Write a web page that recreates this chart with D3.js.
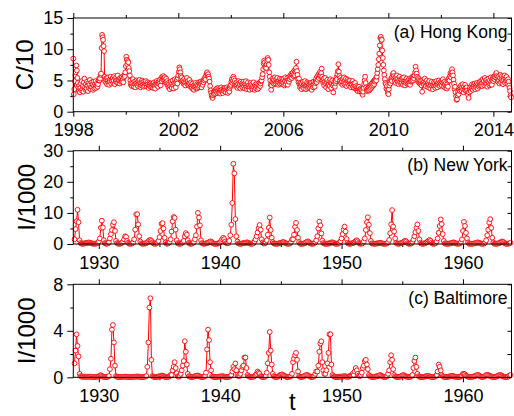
<!DOCTYPE html>
<html><head><meta charset="utf-8">
<script src="https://cdn.jsdelivr.net/npm/d3@7"></script>
<style>html,body{margin:0;padding:0;background:#fff;}svg{display:block;}</style>
</head><body>
<svg id="chart" width="514" height="416"></svg>
<script>
// ---------- DATA ----------
// (a) Hong Kong, weekly values of C/10, one row per year (52 weeks; 2014 partial)
const hkStartYear = 1998;
const hkWeekly = [
 [8.5,2.8,3.6,4.9,5.8,6.3,7.4,6.6,5.4,4.6,3.9,3.3,4.2, 3.1,3.8,4.5,3.4,4.9,3.6,4.1,3.2,4.7,5.3,3.9,3.5,4.4, 3.7,4.8,4.2,3.3,4.6,3.8,4.3,5.1,3.6,4.0,4.7,3.9,4.4, 3.5,4.8,4.1,3.7,4.5,4.9,3.8,4.2,4.6,4.0,4.4,5.0,5.3],
 [5.0,5.3,5.9,6.1,10.2,12.3,11.9,11.5,10.5,9.7,5.6,4.9,5.2, 4.6,5.4,4.4,5.0,5.5,4.7,4.3,5.1,4.8,5.6,4.5,5.2,4.9, 5.4,4.6,5.0,5.7,4.4,5.3,4.9,5.5,4.7,5.1,5.8,4.6,5.2, 5.0,4.5,5.4,4.8,5.3,4.9,5.6,5.1,4.7,5.5,5.9,5.7,6.3],
 [7.3,8.8,8.3,7.6,8.1,7.9,7.0,6.5,5.8,5.0,4.3,4.6,4.1, 4.5,5.2,4.2,4.0,4.8,4.4,3.9,4.6,5.0,4.3,4.7,4.1,4.9, 4.4,5.1,4.6,3.9,4.5,4.2,5.0,4.7,4.3,4.0,4.8,4.5,4.1, 4.6,4.9,4.3,4.0,4.7,4.4,3.8,4.2,4.6,4.1,4.5,3.9,4.3],
 [4.0,4.4,3.8,4.2,4.7,4.1,3.7,4.5,4.3,4.9,4.2,4.6,4.0, 4.8,4.4,5.1,4.6,4.2,5.3,4.9,5.6,5.2,5.7,5.4,5.0,5.5, 5.1,4.7,5.3,4.5,4.9,4.2,4.6,3.9,4.4,3.6,4.1,4.8,4.3, 3.8,4.5,5.0,4.2,3.7,4.6,5.2,4.4,3.9,4.7,5.1,4.5,5.4],
 [5.8,6.4,7.1,6.8,6.3,5.7,5.2,5.5,4.8,5.0,4.5,4.8,5.3, 4.6,4.2,5.0,4.7,5.4,4.4,4.9,4.3,4.6,5.1,4.5,4.0,4.7, 4.2,3.8,4.5,3.6,4.1,3.5,4.3,3.9,4.6,4.0,3.7,4.4,3.8, 4.2,4.7,3.9,4.5,4.1,4.8,4.4,3.9,4.6,4.3,5.0,4.7,5.2],
 [5.0,5.5,5.2,5.8,6.1,6.3,5.9,6.0,5.6,5.3,4.8,4.1,3.4, 3.0,2.6,2.3,2.2,2.6,3.1,2.8,3.3,2.9,3.5,3.2,3.7,3.0, 3.4,3.8,3.1,3.6,3.3,2.9,3.5,3.9,3.2,3.6,3.0,3.4,3.7, 3.3,3.8,3.5,3.1,3.6,3.9,3.4,3.0,3.7,3.5,3.2,3.8,4.1],
 [4.3,4.8,5.2,4.6,5.0,5.6,5.3,4.7,5.0,4.4,4.1,4.7,4.2, 3.8,4.5,4.9,4.0,4.6,4.3,3.7,4.8,4.2,4.5,3.9,4.4,4.8, 4.1,4.5,3.7,4.3,4.9,4.0,3.6,4.4,4.7,3.9,4.2,3.5,4.0, 4.6,4.2,3.8,4.4,3.6,4.1,4.7,3.9,3.5,4.3,4.0,3.7,4.5],
 [4.0,3.6,4.4,3.8,4.2,4.7,4.1,4.5,4.9,5.0,5.5,6.0,6.8, 7.7,8.2,7.9,7.1,7.4,7.0,7.6,8.1,8.6,8.3,7.5,6.3,5.6, 5.0,4.3,3.5,4.2,4.8,5.3,4.6,5.1,4.4,5.5,4.9,4.5,5.2, 4.7,5.4,4.8,4.3,5.0,4.6,5.3,4.4,4.9,5.2,4.5,4.8,5.1],
 [4.6,5.3,4.2,4.9,5.5,4.4,5.0,4.7,5.4,4.3,5.1,4.8,5.6, 5.2,5.8,5.5,6.1,5.4,5.9,6.3,5.7,6.0,6.6,5.8,6.4,7.0, 8.0,6.5,5.9,5.2,4.7,5.3,4.4,3.9,4.6,4.1,3.6,4.5,4.0, 4.8,4.2,3.7,4.4,4.9,4.1,3.6,4.3,4.7,3.8,4.5,4.2,3.9],
 [4.4,3.8,4.6,4.1,3.5,4.7,4.2,3.9,4.8,4.3,4.0,4.6,4.9, 5.3,4.7,5.6,5.1,5.9,5.4,6.1,5.7,6.4,5.8,6.2,6.9,5.6, 5.0,4.6,5.3,4.2,4.8,5.4,4.5,3.9,4.7,5.1,4.3,3.6,4.4, 4.9,4.1,5.2,4.6,3.8,4.5,5.0,4.2,3.1,4.4,4.8,4.0,4.6],
 [4.9,5.5,5.2,6.0,6.5,7.6,6.4,5.7,5.0,5.4,4.6,5.1,4.8, 4.3,5.2,4.7,5.5,4.4,5.0,4.6,5.3,4.1,4.8,5.1,4.5,4.9, 4.2,4.7,5.0,4.4,3.9,4.6,4.3,4.9,4.0,4.5,3.8,4.2,4.6, 3.7,4.1,3.5,3.9,3.3,3.8,3.6,4.0,3.4,3.2,3.7,3.5,3.1],
 [3.4,2.7,3.2,3.8,4.4,5.0,5.6,4.6,3.9,3.5,3.3,3.7,3.4, 3.9,3.4,4.1,3.6,4.3,3.8,4.5,4.0,4.7,4.2,4.9,4.4,5.1, 4.8,5.3,5.0,5.6,6.2,6.8,7.5,8.4,9.3,10.6,11.8,12.0,11.6, 11.5,9.8,8.6,7.5,6.6,5.9,5.2,4.6,4.4,3.7,4.1,3.5,3.0],
 [2.8,3.6,4.2,4.8,4.5,5.1,5.4,4.9,5.6,6.0,6.2,5.7,5.3, 4.9,5.5,4.6,5.2,5.8,4.8,5.3,4.4,5.0,5.6,4.7,5.2,4.5, 5.1,4.6,5.4,4.3,4.9,5.5,4.7,4.2,5.0,4.6,5.3,4.8,4.4, 5.0,4.5,5.2,4.7,4.3,5.1,4.8,5.5,4.9,5.4,5.0,5.7,5.3],
 [5.8,6.3,7.2,6.6,6.1,5.6,5.0,5.4,4.7,5.2,4.5,5.0,4.4, 4.9,4.2,3.2,4.6,5.1,4.4,4.8,5.3,4.5,4.1,4.7,5.0,4.3, 4.6,3.9,4.4,4.9,4.1,3.7,4.5,4.2,4.8,4.0,3.6,4.3,4.7, 4.1,4.5,3.8,4.2,4.9,4.4,3.9,4.6,4.3,5.0,4.5,4.1,4.7],
 [4.4,4.9,4.2,4.7,5.2,4.5,4.0,4.8,4.3,3.8,4.6,4.1,3.7, 4.5,4.0,4.9,5.4,5.0,5.7,6.2,5.5,6.0,6.8,6.3,5.8,5.1, 4.5,3.6,4.0,3.1,2.5,1.9,2.0,2.6,3.2,2.8,3.5,3.9,3.3, 3.7,4.2,3.4,3.9,4.4,3.6,3.1,4.0,3.5,4.3,3.8,3.3,3.9],
 [3.4,3.0,2.7,2.2,3.1,3.6,3.9,3.3,4.1,3.7,4.4,3.5,4.0, 4.3,3.8,4.5,3.6,4.2,3.9,4.6,4.1,3.7,4.4,4.0,4.7,4.2, 4.8,4.3,5.0,4.5,4.1,5.2,4.6,4.9,4.2,5.4,4.7,4.4,5.1, 4.5,4.0,4.8,5.3,4.6,4.2,5.0,4.4,5.5,4.8,4.3,5.1,5.4],
 [4.9,5.6,5.2,5.8,5.5,6.0,6.2,5.7,5.3,4.8,5.6,5.0,4.5, 5.4,5.9,4.7,5.2,5.7,4.9,4.4,5.5,5.1,5.8,4.6,5.3,4.9, 5.6,5.0,4.5,5.2,4.8,4.2,3.8,3.3,2.6,2.3]
];

// (b) New York, monthly values of I/1000, one row per year (Jan..Dec)
const nyStartYear = 1928;
const nyMonthly = [
 [1.5,4.8,7.3,11.0,7.0,1.2,0.3,0.1,0.1,0.1,0.2,0.3],
 [0.3,0.4,0.5,0.4,0.3,0.2,0.1,0.1,0.1,0.1,0.2,0.4],
 [0.8,1.8,5.2,7.5,5.3,1.2,0.3,0.1,0.1,0.2,0.5,1.8],
 [3.2,4.5,6.2,7.0,4.2,1.0,0.3,0.1,0.1,0.1,0.2,0.4],
 [0.8,1.5,2.5,2.3,1.0,0.4,0.1,0.1,0.1,0.2,0.5,1.5],
 [4.6,9.5,9.6,6.3,2.5,0.8,0.2,0.1,0.1,0.1,0.2,0.3],
 [0.5,0.8,1.2,1.3,1.0,0.5,0.2,0.1,0.1,0.2,0.4,1.0],
 [2.2,4.2,6.5,6.7,5.0,2.0,0.5,0.1,0.1,0.3,0.6,1.5],
 [4.0,7.3,8.7,8.4,4.6,1.2,0.3,0.1,0.1,0.1,0.3,0.6],
 [1.0,2.5,3.5,3.0,1.2,0.4,0.1,0.1,0.1,0.3,0.6,1.5],
 [2.8,5.6,10.0,8.5,6.0,1.2,0.3,0.1,0.1,0.1,0.2,0.3],
 [0.4,0.6,0.8,0.8,0.5,0.2,0.1,0.1,0.1,0.1,0.2,0.3],
 [0.5,1.0,1.5,2.0,1.6,0.8,0.3,0.2,0.3,1.0,2.8,6.2],
 [13.2,25.8,22.7,8.0,2.5,0.8,0.2,0.1,0.1,0.1,0.2,0.3],
 [0.3,0.4,0.5,0.5,0.3,0.2,0.1,0.1,0.1,0.3,0.8,1.5],
 [2.5,3.7,5.1,6.1,4.6,1.5,0.5,0.2,0.2,0.5,1.2,3.0],
 [5.2,8.5,4.5,2.0,0.6,0.2,0.1,0.1,0.1,0.1,0.2,0.3],
 [0.4,0.5,0.6,0.6,0.4,0.2,0.1,0.1,0.1,0.2,0.6,1.5],
 [1.5,3.0,5.5,6.8,4.5,2.0,0.6,0.1,0.1,0.1,0.1,0.2],
 [0.3,0.5,0.8,0.8,0.5,0.2,0.1,0.1,0.1,0.2,0.5,1.2],
 [2.5,5.0,7.2,6.0,3.4,1.1,0.3,0.1,0.1,0.1,0.1,0.2],
 [0.2,0.4,0.5,0.5,0.4,0.2,0.1,0.1,0.1,0.2,0.4,0.9],
 [1.8,3.2,4.6,5.6,4.0,1.6,0.4,0.1,0.1,0.1,0.2,0.3],
 [0.4,0.7,1.0,1.2,0.9,0.4,0.1,0.1,0.1,0.3,0.8,1.8],
 [4.5,7.0,8.6,6.2,3.5,1.0,0.2,0.1,0.1,0.1,0.1,0.2],
 [0.2,0.3,0.3,0.3,0.2,0.1,0.1,0.1,0.1,0.2,0.5,1.3],
 [3.5,6.3,10.9,5.6,4.0,1.8,0.4,0.1,0.1,0.1,0.2,0.3],
 [0.4,0.6,0.9,1.0,0.8,0.3,0.1,0.1,0.1,0.2,0.6,1.4],
 [2.5,3.8,5.2,6.3,4.2,1.5,0.4,0.1,0.1,0.1,0.2,0.3],
 [0.5,0.8,1.1,1.3,1.0,0.4,0.1,0.1,0.1,0.3,0.8,1.8],
 [3.6,5.8,7.9,6.4,3.2,1.0,0.2,0.1,0.1,0.1,0.1,0.2],
 [0.2,0.3,0.5,0.5,0.3,0.2,0.1,0.1,0.1,0.2,0.6,1.5],
 [4.2,7.1,5.8,3.6,1.8,0.5,0.1,0.1,0.1,0.1,0.1,0.2],
 [0.2,0.3,0.5,0.5,0.4,0.2,0.1,0.1,0.1,0.2,0.5,1.2],
 [2.8,4.6,6.9,8.0,5.2,2.0,0.5,0.1,0.1,0.1,0.1,0.2],
 [0.3,0.5,0.7,0.8,0.6,0.3,0.1,0.1,0.1,0.1,0.2,0.4]
];

// (c) Baltimore, monthly values of I/1000, one row per year (Jan..Dec)
const baltStartYear = 1928;
const baltMonthly = [
 [1.2,2.3,3.7,2.7,1.8,0.3,0.1,0.05,0.05,0.05,0.05,0.05],
 [0.05,0.05,0.05,0.05,0.05,0.05,0.03,0.03,0.03,0.05,0.05,0.05],
 [0.08,0.15,0.18,0.12,0.06,0.04,0.03,0.03,0.03,0.05,0.1,0.7],
 [1.6,4.1,4.5,3.0,1.0,0.1,0.05,0.03,0.03,0.03,0.05,0.05],
 [0.05,0.05,0.06,0.05,0.04,0.03,0.03,0.03,0.03,0.04,0.05,0.05],
 [0.05,0.06,0.07,0.06,0.05,0.04,0.03,0.03,0.03,0.05,0.06,0.1],
 [0.9,3.0,6.0,6.8,1.5,0.1,0.05,0.03,0.03,0.04,0.05,0.06],
 [0.08,0.12,0.15,0.14,0.1,0.06,0.03,0.03,0.03,0.05,0.1,0.2],
 [0.2,0.6,0.9,1.3,0.8,0.35,0.1,0.05,0.1,0.3,0.6,1.0],
 [1.4,3.1,2.2,1.1,0.3,0.1,0.05,0.03,0.03,0.04,0.05,0.1],
 [0.1,0.15,0.15,0.1,0.06,0.04,0.03,0.03,0.05,0.1,0.4,2.4],
 [4.1,3.2,1.3,0.6,0.1,0.05,0.03,0.03,0.03,0.04,0.05,0.06],
 [0.06,0.08,0.1,0.08,0.05,0.04,0.03,0.03,0.04,0.06,0.1,0.2],
 [0.5,0.9,0.7,1.2,0.6,0.2,0.1,0.1,0.3,0.6,0.9,1.0],
 [1.7,1.7,0.8,0.2,0.1,0.05,0.03,0.03,0.03,0.05,0.1,0.2],
 [0.3,0.5,0.4,0.3,0.1,0.05,0.03,0.03,0.04,0.1,0.4,1.2],
 [2.1,3.9,2.3,1.1,0.3,0.1,0.04,0.03,0.03,0.05,0.1,0.2],
 [0.2,0.25,0.2,0.15,0.1,0.05,0.03,0.03,0.04,0.06,0.1,0.3],
 [1.3,1.6,1.9,2.1,1.5,0.5,0.1,0.04,0.03,0.04,0.06,0.1],
 [0.15,0.2,0.2,0.15,0.1,0.05,0.03,0.03,0.04,0.1,0.3,0.5],
 [0.5,1.0,2.2,2.9,3.1,1.3,0.6,0.3,0.3,0.6,1.2,2.1],
 [3.7,3.7,1.1,0.2,0.1,0.05,0.03,0.03,0.03,0.04,0.05,0.06],
 [0.05,0.06,0.08,0.1,0.08,0.05,0.04,0.05,0.1,0.15,0.2,0.3],
 [0.2,0.5,0.8,0.6,0.3,0.15,0.1,0.2,0.4,0.8,1.0,1.4],
 [1.5,1.1,0.7,0.2,0.1,0.05,0.03,0.03,0.03,0.05,0.08,0.1],
 [0.1,0.15,0.2,0.15,0.1,0.05,0.03,0.03,0.05,0.1,0.3,0.6],
 [1.3,1.9,1.5,0.7,0.2,0.08,0.04,0.03,0.03,0.04,0.06,0.1],
 [0.15,0.2,0.15,0.1,0.06,0.04,0.03,0.03,0.04,0.1,0.2,0.8],
 [1.4,1.7,0.9,0.3,0.1,0.05,0.03,0.03,0.03,0.04,0.05,0.08],
 [0.1,0.12,0.1,0.08,0.05,0.04,0.03,0.03,0.04,0.1,0.2,0.5],
 [1.1,0.9,0.6,0.2,0.1,0.05,0.03,0.03,0.03,0.04,0.06,0.08],
 [0.1,0.12,0.1,0.08,0.05,0.04,0.03,0.03,0.03,0.04,0.08,0.15],
 [0.3,0.3,0.25,0.15,0.08,0.05,0.03,0.03,0.03,0.04,0.06,0.08],
 [0.1,0.15,0.2,0.2,0.15,0.08,0.04,0.03,0.04,0.06,0.1,0.2],
 [0.2,0.2,0.15,0.1,0.06,0.04,0.03,0.03,0.04,0.06,0.1,0.15],
 [0.2,0.2,0.15,0.1,0.06,0.04,0.03,0.03,0.04,0.08,0.15,0.2]
];

// axis ticks and labels
const hkXMajor = [1998, 2002, 2006, 2010, 2014];
const hkXMinor = [2000, 2004, 2008, 2012];
const histXMajor = [1930, 1940, 1950, 1960];
const histXMinor = [1935, 1945, 1955];
const hkYMajor = [0, 5, 10, 15],  hkYMinor = [2.5, 7.5, 12.5];
const nyYMajor = [0, 10, 20, 30], nyYMinor = [5, 15, 25];
const baltYMajor = [0, 4, 8],     baltYMinor = [2, 6];
const panelTitles = ["(a) Hong Kong", "(b) New York", "(c) Baltimore"];
const yTitles = ["C/10", "I/1000", "I/1000"];
const xTitle = "t";

// ---------- BUILD SERIES ----------
function weeklySeries(rows, y0) {
  const out = [];
  rows.forEach((row, i) => row.forEach((v, j) => out.push({t: y0 + i + j / 52, v})));
  return out;
}
function monthlySeries(rows, y0) {
  const out = [];
  rows.forEach((row, i) => row.forEach((v, j) => out.push({t: y0 + i + j / 12, v})));
  return out;
}

const FONT = "'Liberation Sans', Arial, Helvetica, sans-serif";
const RED = "#ff0000";
const left = 73.3, right = 511.5;

const panels = [
  {top: 18, bottom: 111.7, xDom: [1998, 2014.69], yDom: [0, 15], data: weeklySeries(hkWeekly, hkStartYear),
   xMaj: hkXMajor, xMin: hkXMinor, yMaj: hkYMajor, yMin: hkYMinor, title: panelTitles[0], ytitle: yTitles[0], ytx: 33},
  {top: 150.7, bottom: 244, xDom: [1927.9, 1964.0], yDom: [0, 30], data: monthlySeries(nyMonthly, nyStartYear),
   xMaj: histXMajor, xMin: histXMinor, yMaj: nyYMajor, yMin: nyYMinor, title: panelTitles[1], ytitle: yTitles[1], ytx: 35},
  {top: 284.3, bottom: 377.3, xDom: [1927.9, 1964.0], yDom: [0, 8], data: monthlySeries(baltMonthly, baltStartYear),
   xMaj: histXMajor, xMin: histXMinor, yMaj: baltYMajor, yMin: baltYMinor, title: panelTitles[2], ytitle: yTitles[2], ytx: 35}
];

const svg = d3.select("#chart");

function styleAxis(g) {
  g.attr("font-family", FONT).attr("font-size", 18);
  g.select(".domain").remove();
  g.selectAll(".tick line").attr("stroke", "#000").attr("stroke-width", 1);
  g.selectAll(".tick text").attr("fill", "#000");
}

panels.forEach(p => {
  const x = d3.scaleLinear().domain(p.xDom).range([left, right]);
  const y = d3.scaleLinear().domain(p.yDom).range([p.bottom, p.top]);

  // bottom axis
  svg.append("g").attr("transform", `translate(0,${p.bottom})`)
    .call(d3.axisBottom(x).tickValues(p.xMaj).tickSize(5).tickSizeOuter(0).tickPadding(7).tickFormat(d3.format("d")))
    .call(styleAxis);
  svg.append("g").attr("transform", `translate(0,${p.bottom})`)
    .call(d3.axisBottom(x).tickValues(p.xMin).tickSize(3).tickSizeOuter(0).tickFormat(""))
    .call(styleAxis);
  // top axis (mirror, no labels)
  svg.append("g").attr("transform", `translate(0,${p.top})`)
    .call(d3.axisTop(x).tickValues(p.xMaj).tickSize(5).tickSizeOuter(0).tickFormat(""))
    .call(styleAxis);
  svg.append("g").attr("transform", `translate(0,${p.top})`)
    .call(d3.axisTop(x).tickValues(p.xMin).tickSize(3).tickSizeOuter(0).tickFormat(""))
    .call(styleAxis);
  // left axis
  svg.append("g").attr("transform", `translate(${left},0)`)
    .call(d3.axisLeft(y).tickValues(p.yMaj).tickSize(6).tickSizeOuter(0).tickPadding(4).tickFormat(d3.format("d")))
    .call(styleAxis);
  svg.append("g").attr("transform", `translate(${left},0)`)
    .call(d3.axisLeft(y).tickValues(p.yMin).tickSize(3).tickSizeOuter(0).tickFormat(""))
    .call(styleAxis);
  // right axis (inward ticks)
  svg.append("g").attr("transform", `translate(${right},0)`)
    .call(d3.axisRight(y).tickValues(p.yMaj.concat(p.yMin)).tickSize(-4).tickSizeOuter(0).tickFormat(""))
    .call(styleAxis);

  // series line
  const line = d3.line().x(d => x(d.t)).y(d => y(d.v));
  svg.append("path").datum(p.data)
    .attr("d", line).attr("fill", "none").attr("stroke", RED).attr("stroke-width", 1);
  svg.append("g").selectAll("circle").data(p.data).join("circle")
    .attr("cx", d => x(d.t)).attr("cy", d => y(d.v)).attr("r", 2.4)
    .attr("fill", "#fff").attr("stroke", RED).attr("stroke-width", 0.9);

  // frame
  svg.append("rect").attr("x", left).attr("y", p.top)
    .attr("width", right - left).attr("height", p.bottom - p.top)
    .attr("fill", "none").attr("stroke", "#000").attr("stroke-width", 1);

  // panel title
  svg.append("text").attr("x", right - 4).attr("y", p.top + 20)
    .attr("text-anchor", "end").attr("font-family", FONT).attr("font-size", 17.5)
    .text(p.title);

  // y title
  svg.append("text")
    .attr("transform", `translate(${p.ytx},${(p.top + p.bottom) / 2}) rotate(-90)`)
    .attr("text-anchor", "middle").attr("font-family", FONT).attr("font-size", 24)
    .text(p.ytitle);
});

// x title
svg.append("text").attr("x", (left + right) / 2).attr("y", 410)
  .attr("text-anchor", "middle").attr("font-family", FONT).attr("font-size", 24)
  .text(xTitle);
</script>
</body></html>
